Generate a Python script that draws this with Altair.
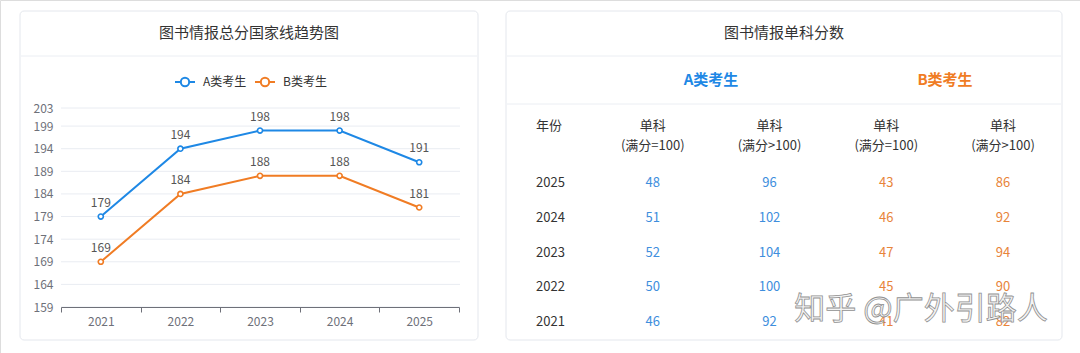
import altair as alt
import pandas as pd

# ---------------- data ----------------
years = ["2021", "2022", "2023", "2024", "2025"]
total_a = [179, 194, 198, 198, 191]
total_b = [169, 184, 188, 188, 181]
series = ["A类考生", "B类考生"]
y_ticks = [159, 164, 169, 174, 179, 184, 189, 194, 199, 203]

table_years = ["2025", "2024", "2023", "2022", "2021"]
a_eq100 = [48, 51, 52, 50, 46]
a_gt100 = [96, 102, 104, 100, 92]
b_eq100 = [43, 46, 47, 45, 41]
b_gt100 = [86, 92, 94, 90, 82]
col_keys = ["年份", "A1", "A2", "B1", "B2"]
col_head1 = ["年份", "单科", "单科", "单科", "单科"]
col_head2 = ["", "(满分=100)", "(满分>100)", "(满分=100)", "(满分>100)"]

left_title = "图书情报总分国家线趋势图"
right_title = "图书情报单科分数"
watermark = "知乎 @广外引路人"

# ---------------- style ----------------
FONT = "Noto Sans CJK SC"
BLUE = "#1E88E5"
ORANGE = "#F07C24"
T_BLUE = "#3E8EDD"
T_ORANGE = "#E8843A"
AXIS_GREY = "#6E7079"
GRID = "#E9ECF2"
CARD_LINE = "#E4E7ED"
W, H = 1080, 353

line_df = pd.DataFrame({
    "year": years * 2,
    "value": total_a + total_b,
    "series": [series[0]] * len(years) + [series[1]] * len(years),
})
tick_df = pd.DataFrame({"v": y_ticks})
one = pd.DataFrame({"k": [0]})
series_df = pd.DataFrame({"series": series})

rows = []
for i, y in enumerate(table_years):
    rows.append({"year": y, "col": "A1", "grp": "A", "v": a_eq100[i]})
    rows.append({"year": y, "col": "A2", "grp": "A", "v": a_gt100[i]})
    rows.append({"year": y, "col": "B1", "grp": "B", "v": b_eq100[i]})
    rows.append({"year": y, "col": "B2", "grp": "B", "v": b_gt100[i]})
table_df = pd.DataFrame(rows)
year_df = pd.DataFrame({"year": table_years, "col": ["年份"] * len(table_years)})
head_df = pd.DataFrame({"col": col_keys, "h1": col_head1, "h2": col_head2})

# ---------------- scales ----------------
x_line = alt.Scale(type="band", domain=years, range=[61, 459], paddingInner=0, paddingOuter=0)
y_line = alt.Scale(domain=[159, 203], range=[307, 108], nice=False, zero=False)
color_scale = alt.Scale(domain=series, range=[BLUE, ORANGE])
legend_x = alt.Scale(type="point", domain=series, range=[185, 265], padding=0)
col_scale = alt.Scale(type="point", domain=col_keys, range=[536, 1003], padding=0)
row_scale = alt.Scale(type="point", domain=table_years, range=[183, 322], padding=0)
grp_scale = alt.Scale(type="point", domain=series, range=[711, 945], padding=0)

# ---------------- cards ----------------
def card(x1, x2):
    return alt.Chart(one).mark_rect(
        fill="white", stroke=CARD_LINE, strokeWidth=1, cornerRadius=4
    ).encode(x=alt.value(x1), x2=alt.value(x2), y=alt.value(11), y2=alt.value(340))

def sep(x1, x2, y):
    return alt.Chart(one).mark_rule(color="#EBEEF3", strokeWidth=1).encode(
        x=alt.value(x1), x2=alt.value(x2), y=alt.value(y))

def title_text(txt, x):
    return alt.Chart(one).mark_text(
        text=txt, font=FONT, fontSize=15, color="#333333", align="center", baseline="middle"
    ).encode(x=alt.value(x), y=alt.value(33))

# ---------------- line chart ----------------
grid = alt.Chart(tick_df).mark_rule(color=GRID, strokeWidth=1).encode(
    y=alt.Y("v:Q", scale=y_line, axis=None),
    x=alt.value(61), x2=alt.value(460),
)

lines = alt.Chart(line_df).mark_line(strokeWidth=2).encode(
    x=alt.X("year:N", scale=x_line, bandPosition=0.5, title=None,
            axis=alt.Axis(orient="bottom", offset=-(H - 307), tickBand="extent",
                          grid=False, domainColor=AXIS_GREY, tickColor=AXIS_GREY,
                          labelColor=AXIS_GREY, labelFontSize=12, labelFont=FONT,
                          tickSize=5, labelPadding=4, labelAngle=0, domainWidth=1,
                          zindex=1)),
    y=alt.Y("value:Q", scale=y_line, title=None,
            axis=alt.Axis(orient="left", offset=-61, values=y_ticks, grid=False,
                          domain=False, ticks=False, labelColor=AXIS_GREY,
                          labelFontSize=12, labelFont=FONT, labelPadding=8,
                          zindex=1)),
    color=alt.Color("series:N", scale=color_scale, legend=None),
)

points = alt.Chart(line_df).mark_point(
    shape="circle", filled=False, fill="white", size=26, strokeWidth=1.6, opacity=1
).encode(
    x=alt.X("year:N", scale=x_line, bandPosition=0.5, axis=None),
    y=alt.Y("value:Q", scale=y_line, axis=None),
    color=alt.Color("series:N", scale=color_scale, legend=None),
)

labels = alt.Chart(line_df).mark_text(
    dy=-14, fontSize=12, font=FONT, color="#555555", align="center", baseline="middle"
).encode(
    x=alt.X("year:N", scale=x_line, bandPosition=0.5, axis=None),
    y=alt.Y("value:Q", scale=y_line, axis=None),
    text="value:Q",
)

# legend (line + hollow circle + label), drawn from the series list
leg_line = alt.Chart(series_df).mark_point(
    shape="M-1,0L1,0", size=400, strokeWidth=2, filled=False, opacity=1
).encode(
    x=alt.X("series:N", scale=legend_x, axis=None),
    y=alt.value(82),
    color=alt.Color("series:N", scale=color_scale, legend=None),
)
leg_dot = alt.Chart(series_df).mark_point(
    shape="circle", size=70, strokeWidth=2, filled=False, fill="white", opacity=1
).encode(
    x=alt.X("series:N", scale=legend_x, axis=None),
    y=alt.value(82),
    color=alt.Color("series:N", scale=color_scale, legend=None),
)
leg_text = alt.Chart(series_df).mark_text(
    font=FONT, fontSize=12, color="#333333", align="left", baseline="middle", dx=18
).encode(
    x=alt.X("series:N", scale=legend_x, axis=None),
    y=alt.value(82),
    text="series:N",
)

# ---------------- table ----------------
grp_head = alt.Chart(series_df).mark_text(
    font=FONT, fontSize=15, fontWeight="bold", align="center", baseline="middle"
).encode(
    x=alt.X("series:N", scale=grp_scale, axis=None),
    y=alt.value(80),
    text="series:N",
    color=alt.Color("series:N", scale=color_scale, legend=None),
)

head_year = alt.Chart(head_df).transform_filter(alt.datum.col == "年份").mark_text(
    font=FONT, fontSize=13, color="#333333", align="left", baseline="middle"
).encode(x=alt.X("col:N", scale=col_scale, axis=None), y=alt.value(126), text="h1:N")

head1 = alt.Chart(head_df).transform_filter(alt.datum.col != "年份").mark_text(
    font=FONT, fontSize=13, color="#333333", align="center", baseline="middle"
).encode(x=alt.X("col:N", scale=col_scale, axis=None), y=alt.value(126), text="h1:N")

head2 = alt.Chart(head_df).transform_filter(alt.datum.col != "年份").mark_text(
    font=FONT, fontSize=13, color="#333333", align="center", baseline="middle"
).encode(x=alt.X("col:N", scale=col_scale, axis=None), y=alt.value(146), text="h2:N")

year_col = alt.Chart(year_df).mark_text(
    font=FONT, fontSize=13, color="#333333", align="left", baseline="middle"
).encode(
    x=alt.X("col:N", scale=col_scale, axis=None),
    y=alt.Y("year:N", scale=row_scale, axis=None),
    text="year:N",
)

vals_a = alt.Chart(table_df).transform_filter(alt.datum.grp == "A").mark_text(
    font=FONT, fontSize=13, color=T_BLUE, align="center", baseline="middle"
).encode(
    x=alt.X("col:N", scale=col_scale, axis=None),
    y=alt.Y("year:N", scale=row_scale, axis=None),
    text="v:Q",
)
vals_b = alt.Chart(table_df).transform_filter(alt.datum.grp == "B").mark_text(
    font=FONT, fontSize=13, color=T_ORANGE, align="center", baseline="middle"
).encode(
    x=alt.X("col:N", scale=col_scale, axis=None),
    y=alt.Y("year:N", scale=row_scale, axis=None),
    text="v:Q",
)

wm = alt.Chart(one).mark_text(
    text=watermark, font=FONT, fontSize=31, fill="#F4F4F4", stroke="#8C8C8C",
    strokeWidth=0.8, align="center", baseline="middle", opacity=0.95
).encode(x=alt.value(921), y=alt.value(310))

chart = alt.layer(
    card(20, 478), card(506, 1062),
    sep(21, 477, 56), sep(507, 1061, 56), sep(507, 1061, 104),
    title_text(left_title, 249), title_text(right_title, 784),
    grid, lines, points, labels,
    leg_line, leg_dot, leg_text,
    grp_head, head_year, head1, head2, year_col, vals_a, vals_b,
    wm,
).resolve_scale(
    x="independent", y="independent", color="shared"
).properties(
    width=W, height=H, padding=0,
    autosize=alt.AutoSizeParams(type="none"),
    background="white",
).configure_view(stroke=None).configure(font=FONT)

chart.save("out.html", embed_options={"renderer": "svg", "actions": False})
